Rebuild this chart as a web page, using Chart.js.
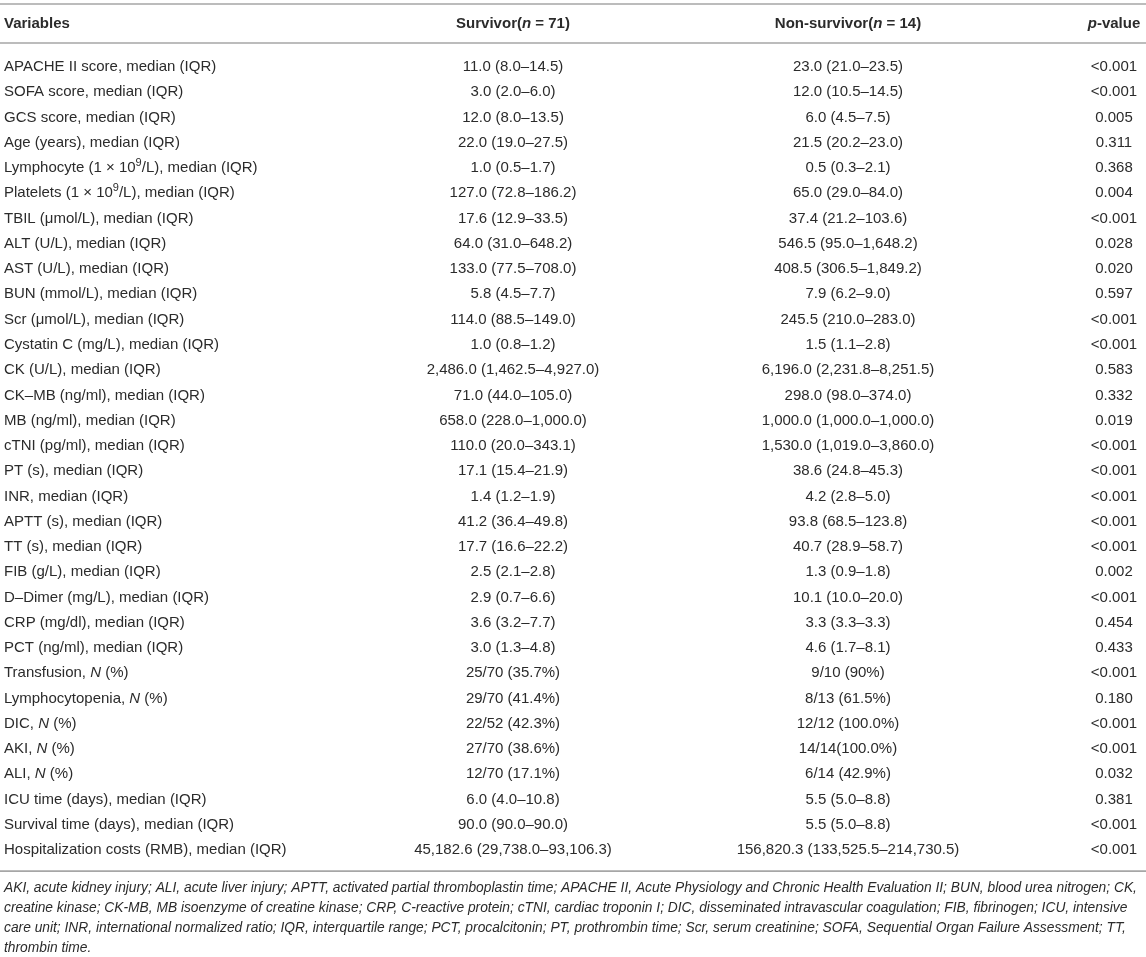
<!DOCTYPE html>
<html>
<head>
<meta charset="utf-8">
<script src="https://cdn.jsdelivr.net/npm/chart.js@4.4.1/dist/chart.umd.min.js"></script>
<style>
  html, body { margin: 0; padding: 0; background: #fff; }
  #wrap { width: 1146px; height: 957px; }
</style>
</head>
<body>
<div id="wrap"><canvas id="table" width="1146" height="957"></canvas></div>
<script>
"use strict";

// markup: *...* = italic, ^...^ = superscript
const headers = ["Variables", "Survivor(*n* = 71)", "Non-survivor(*n* = 14)", "*p*-value"];

const variables = [
    "APACHE II score, median (IQR)",
    "SOFA score, median (IQR)",
    "GCS score, median (IQR)",
    "Age (years), median (IQR)",
    "Lymphocyte (1 × 10^9^/L), median (IQR)",
    "Platelets (1 × 10^9^/L), median (IQR)",
    "TBIL (μmol/L), median (IQR)",
    "ALT (U/L), median (IQR)",
    "AST (U/L), median (IQR)",
    "BUN (mmol/L), median (IQR)",
    "Scr (μmol/L), median (IQR)",
    "Cystatin C (mg/L), median (IQR)",
    "CK (U/L), median (IQR)",
    "CK–MB (ng/ml), median (IQR)",
    "MB (ng/ml), median (IQR)",
    "cTNI (pg/ml), median (IQR)",
    "PT (s), median (IQR)",
    "INR, median (IQR)",
    "APTT (s), median (IQR)",
    "TT (s), median (IQR)",
    "FIB (g/L), median (IQR)",
    "D–Dimer (mg/L), median (IQR)",
    "CRP (mg/dl), median (IQR)",
    "PCT (ng/ml), median (IQR)",
    "Transfusion, *N* (%)",
    "Lymphocytopenia, *N* (%)",
    "DIC, *N* (%)",
    "AKI, *N* (%)",
    "ALI, *N* (%)",
    "ICU time (days), median (IQR)",
    "Survival time (days), median (IQR)",
    "Hospitalization costs (RMB), median (IQR)"
];

const survivor = [
    "11.0 (8.0–14.5)", "3.0 (2.0–6.0)", "12.0 (8.0–13.5)", "22.0 (19.0–27.5)",
    "1.0 (0.5–1.7)", "127.0 (72.8–186.2)", "17.6 (12.9–33.5)", "64.0 (31.0–648.2)",
    "133.0 (77.5–708.0)", "5.8 (4.5–7.7)", "114.0 (88.5–149.0)", "1.0 (0.8–1.2)",
    "2,486.0 (1,462.5–4,927.0)", "71.0 (44.0–105.0)", "658.0 (228.0–1,000.0)", "110.0 (20.0–343.1)",
    "17.1 (15.4–21.9)", "1.4 (1.2–1.9)", "41.2 (36.4–49.8)", "17.7 (16.6–22.2)",
    "2.5 (2.1–2.8)", "2.9 (0.7–6.6)", "3.6 (3.2–7.7)", "3.0 (1.3–4.8)",
    "25/70 (35.7%)", "29/70 (41.4%)", "22/52 (42.3%)", "27/70 (38.6%)",
    "12/70 (17.1%)", "6.0 (4.0–10.8)", "90.0 (90.0–90.0)", "45,182.6 (29,738.0–93,106.3)"
];

const nonSurvivor = [
    "23.0 (21.0–23.5)", "12.0 (10.5–14.5)", "6.0 (4.5–7.5)", "21.5 (20.2–23.0)",
    "0.5 (0.3–2.1)", "65.0 (29.0–84.0)", "37.4 (21.2–103.6)", "546.5 (95.0–1,648.2)",
    "408.5 (306.5–1,849.2)", "7.9 (6.2–9.0)", "245.5 (210.0–283.0)", "1.5 (1.1–2.8)",
    "6,196.0 (2,231.8–8,251.5)", "298.0 (98.0–374.0)", "1,000.0 (1,000.0–1,000.0)", "1,530.0 (1,019.0–3,860.0)",
    "38.6 (24.8–45.3)", "4.2 (2.8–5.0)", "93.8 (68.5–123.8)", "40.7 (28.9–58.7)",
    "1.3 (0.9–1.8)", "10.1 (10.0–20.0)", "3.3 (3.3–3.3)", "4.6 (1.7–8.1)",
    "9/10 (90%)", "8/13 (61.5%)", "12/12 (100.0%)", "14/14(100.0%)",
    "6/14 (42.9%)", "5.5 (5.0–8.8)", "5.5 (5.0–8.8)", "156,820.3 (133,525.5–214,730.5)"
];

const pValues = [
    "<0.001", "<0.001", "0.005", "0.311", "0.368", "0.004", "<0.001", "0.028",
    "0.020", "0.597", "<0.001", "<0.001", "0.583", "0.332", "0.019", "<0.001",
    "<0.001", "<0.001", "<0.001", "<0.001", "0.002", "<0.001", "0.454", "0.433",
    "<0.001", "0.180", "<0.001", "<0.001", "0.032", "0.381", "<0.001", "<0.001"
];

const footnotes = [
    "AKI, acute kidney injury; ALI, acute liver injury; APTT, activated partial thromboplastin time; APACHE II, Acute Physiology and Chronic Health Evaluation II; BUN, blood urea nitrogen; CK,",
    "creatine kinase; CK-MB, MB isoenzyme of creatine kinase; CRP, C-reactive protein; cTNI, cardiac troponin I; DIC, disseminated intravascular coagulation; FIB, fibrinogen; ICU, intensive",
    "care unit; INR, international normalized ratio; IQR, interquartile range; PCT, procalcitonin; PT, prothrombin time; Scr, serum creatinine; SOFA, Sequential Organ Failure Assessment; TT,",
    "thrombin time."
];

// layout
const FONT = "'Liberation Sans', Arial, Helvetica, sans-serif";
const TEXT_COLOR = "#2b2b2b";
const RULE_COLOR = "#a6a6a6";
const colX = [4, 513, 848, 1114];
const colAlign = ["left", "center", "center", "center"];

function fontString(size, bold, italic) {
    return (italic ? "italic " : "") + (bold ? "bold " : "") + size + "px " + FONT;
}

// split markup into styled pieces
function parseRich(text) {
    const parts = text.split(/([*^])/);
    let italic = false, sup = false;
    const out = [];
    parts.forEach(function (p) {
        if (p === "*") { italic = !italic; return; }
        if (p === "^") { sup = !sup; return; }
        if (p !== "") out.push({ text: p, italic: italic, sup: sup });
    });
    return out;
}

function drawRich(ctx, text, x, y, align, size, bold, allItalic) {
    const segs = parseRich(text);
    let total = 0;
    segs.forEach(function (s) {
        const sz = s.sup ? Math.round(size * 0.7) : size;
        ctx.font = fontString(sz, bold, s.italic || allItalic);
        s.w = ctx.measureText(s.text).width;
        s.size = sz;
        total += s.w;
    });
    let cx = x;
    if (align === "center") cx = x - total / 2;
    else if (align === "right") cx = x - total;
    ctx.textAlign = "left";
    ctx.textBaseline = "middle";
    segs.forEach(function (s) {
        ctx.font = fontString(s.size, bold, s.italic || allItalic);
        ctx.fillText(s.text, cx, s.sup ? y - size * 0.35 : y);
        cx += s.w;
    });
}

function rule(ctx, y, x0, x1) {
    ctx.save();
    ctx.strokeStyle = RULE_COLOR;
    ctx.lineWidth = 1.6;
    ctx.beginPath();
    ctx.moveTo(x0, y);
    ctx.lineTo(x1, y);
    ctx.stroke();
    ctx.restore();
}

const tablePlugin = {
    id: "tableText",
    afterDraw: function (chart) {
        const ctx = chart.ctx;
        const xs = chart.scales.x;
        const ys = chart.scales.y;
        const area = chart.chartArea;
        const left = xs.getPixelForValue(0);
        const right = xs.getPixelForValue(1146);
        const rowH = ys.getPixelForValue(1) - ys.getPixelForValue(0);

        ctx.save();
        ctx.fillStyle = TEXT_COLOR;

        // rules
        rule(ctx, 4, left, right);
        rule(ctx, 43, left, right);
        rule(ctx, area.bottom + 8.5, left, right);

        // header
        headers.forEach(function (h, c) {
            drawRich(ctx, h, xs.getPixelForValue(colX[c]), 24, colAlign[c], 15, true, false);
        });

        // body rows
        const columns = [variables, survivor, nonSurvivor, pValues];
        variables.forEach(function (v, r) {
            const y = ys.getPixelForValue(r);
            columns.forEach(function (col, c) {
                drawRich(ctx, col[r], xs.getPixelForValue(colX[c]), y, colAlign[c], 15, false, false);
            });
        });

        // footnote, fit first line to table width
        ctx.font = fontString(14, false, true);
        const w = ctx.measureText(footnotes[0]).width;
        const fsize = Math.min(14, 14 * 1134 / w);
        const fy0 = area.bottom + 26;
        footnotes.forEach(function (line, i) {
            drawRich(ctx, line, xs.getPixelForValue(4), fy0 + i * rowH * 0.79, "left", fsize, false, true);
        });
        ctx.restore();
    }
};

new Chart(document.getElementById("table"), {
    type: "scatter",
    data: {
        labels: variables,
        datasets: [{ data: [], showLine: false }]
    },
    options: {
        responsive: false,
        animation: false,
        events: [],
        layout: { padding: { top: 54.4, bottom: 94.4, left: 0, right: 0 } },
        plugins: { legend: { display: false }, tooltip: { enabled: false } },
        scales: {
            x: { type: "linear", min: 0, max: 1146, display: false },
            y: { type: "category", labels: variables, offset: true, display: false }
        }
    },
    plugins: [tablePlugin]
});
</script>
</body>
</html>
